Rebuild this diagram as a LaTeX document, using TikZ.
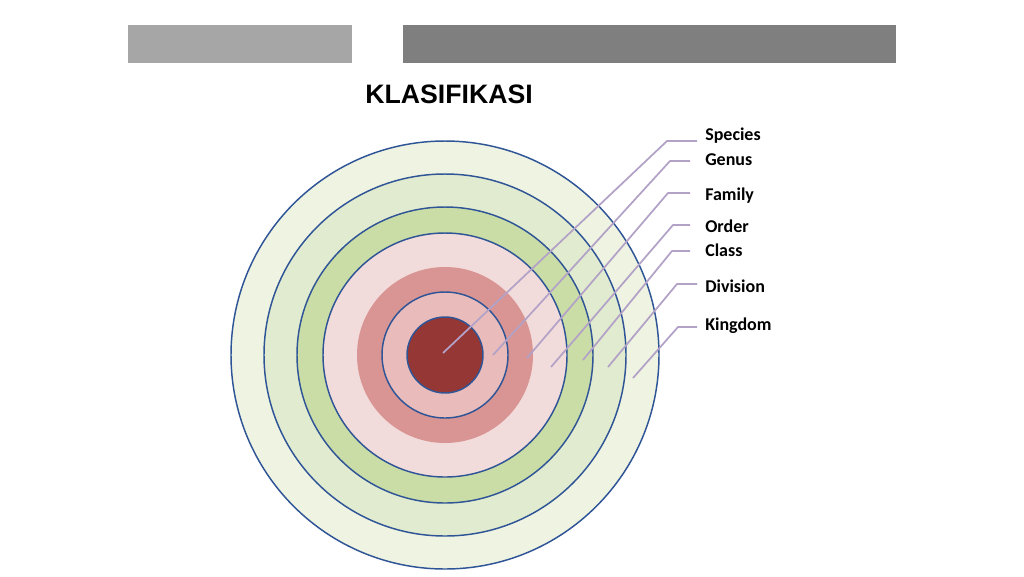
\documentclass[tikz,border=0pt]{standalone}
\usepackage{fontspec}
\setmainfont{Carlito}
\newfontfamily\arialf{Liberation Sans}
\definecolor{ring}{HTML}{2F5597}
\definecolor{g1}{HTML}{EEF3E2}
\definecolor{g2}{HTML}{E1EBCF}
\definecolor{g3}{HTML}{CADDA6}
\definecolor{p1}{HTML}{F2DCDB}
\definecolor{p2}{HTML}{D99594}
\definecolor{p3}{HTML}{E9BCBB}
\definecolor{dr}{HTML}{953735}
\definecolor{lead}{HTML}{B3A2C7}
\begin{document}
\begin{tikzpicture}[x=0.75pt,y=-0.75pt,
  circ/.style={draw=ring,line width=1.1pt},
  leader/.style={draw=lead,line width=1.3pt},
  lbl/.style={anchor=west,inner sep=0pt,font=\fontsize{13.5}{14}\selectfont\bfseries}]
\useasboundingbox (0,0) rectangle (1024,576);
\fill[white] (0,0) rectangle (1024,576);
\fill[fill={rgb,255:red,166;green,166;blue,166}] (128,25) rectangle (352,63);
\fill[fill={rgb,255:red,127;green,127;blue,127}] (403,25) rectangle (896,63);
\node[font=\arialf\bfseries\fontsize{20}{22}\selectfont] (title) at (449,94) {KLASIFIKASI};
\coordinate (c) at (445,355);
\path[circ,fill=g1] (c) circle[radius=214];
\path[circ,fill=g2] (c) circle[radius=181];
\path[circ,fill=g3] (c) circle[radius=148];
\path[circ,fill=p1] (c) circle[radius=122];
\fill[p2] (c) circle[radius=88];
\path[circ,fill=p3] (c) circle[radius=63];
\path[circ,fill=dr] (c) circle[radius=38];
\foreach \n/\t/\sx/\sy/\bx/\by/\ex/\ly in {
 sp/Species/443/353/667/141/697/136,
 ge/Genus/493/355/670/161/690/160,
 fa/Family/527/358/668/193/690/196,
 or/Order/551/367/673/225/690/226,
 cl/Class/583/360/672/251/690/250,
 di/Division/608/367/677/284/697/286,
 ki/Kingdom/633/378/678/327/697/326}{
 \coordinate (\n s) at (\sx,\sy);
 \coordinate (\n b) at (\bx,\by);
 \coordinate (\n e) at (\ex,\by);
 \node[lbl] (\n) at (705,\ly) {\t};
 \draw[leader] (\n s) -- (\n b) -- (\n e);
}
\end{tikzpicture}
\end{document}
